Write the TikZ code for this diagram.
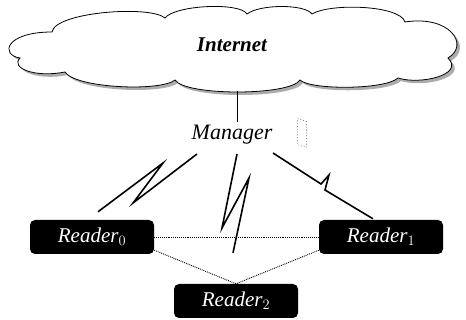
\documentclass[tikz,border=0pt]{standalone}
\usepackage{fontspec}
\setmainfont{Liberation Serif}
\usetikzlibrary{positioning}

\newcommand{\cloudoutline}{(20,58) .. controls (0,55) and (5,32) .. (52,32)
    .. controls (55,12) and (150,5) .. (165,18)
    .. controls (175,5) and (240,2) .. (247,14)
    .. controls (260,4) and (305,4) .. (312,14)
    .. controls (330,3) and (400,5) .. (405,22)
    .. controls (450,15) and (470,45) .. (448,58)
    .. controls (465,75) and (420,85) .. (398,78)
    .. controls (385,90) and (310,90) .. (300,80)
    .. controls (290,96) and (185,96) .. (175,80)
    .. controls (160,92) and (75,88) .. (65,72)
    .. controls (35,78) and (10,68) .. (20,58) -- cycle}

\begin{document}
\begin{tikzpicture}[x=1pt,y=-1pt,
        reader/.style={fill=black,rounded corners=5pt,minimum width=124pt,minimum height=34pt,
            text=white,font=\itshape\fontsize{21}{23}\selectfont},
        bolt/.style={line width=1.6pt,line join=miter},
        link/.style={densely dotted,line width=0.9pt}]
    \useasboundingbox (0,0) rectangle (466,320);
    % cloud
    \fill[gray!65,shift={(3,3)}] \cloudoutline;
    \draw[fill=white,line width=0.8pt] \cloudoutline;
    \node[font=\bfseries\itshape\fontsize{21}{23}\selectfont] (internet) at (232,45) {Internet};
    \coordinate (cloudbase) at (237,91);
    % manager
    \node[font=\itshape\fontsize{22}{24}\selectfont] (manager) at (232,135) {Manager};
    \node[draw=gray,dotted,line width=0.8pt,minimum width=9pt,minimum height=26pt,yslant=-0.3] (icon) at (302,133) {};
    \draw[line width=0.8pt] (cloudbase) -- (manager.north -| cloudbase);
    % readers
    \node[reader] (r0) at (92,237) {Reader$_0$};
    \node[reader] (r1) at (381,237) {Reader$_1$};
    \node[reader] (r2) at (236,301) {Reader$_2$};
    \draw[link] (r0.east) -- (r1.west);
    \draw[link] ([yshift=4pt]r0.south east) -- (r2.north);
    \draw[link] ([yshift=4pt]r1.south west) -- (r2.north);
    % wireless links
    \draw[bolt] ([shift={(-35,19)}]manager.center) -- (133,203) -- (163,163) -- ([xshift=6pt,yshift=8pt]r0.north);
    \draw[bolt] ([shift={(5,19)}]manager.center) -- (222,228) -- (249,178) -- ([xshift=-3pt,yshift=31pt]r2.north);
    \draw[bolt] ([shift={(41,18)}]manager.center) -- (321,184) -- (329,175) -- (325,190) -- ([xshift=-8pt,yshift=1pt]r1.north);
\end{tikzpicture}
\end{document}
